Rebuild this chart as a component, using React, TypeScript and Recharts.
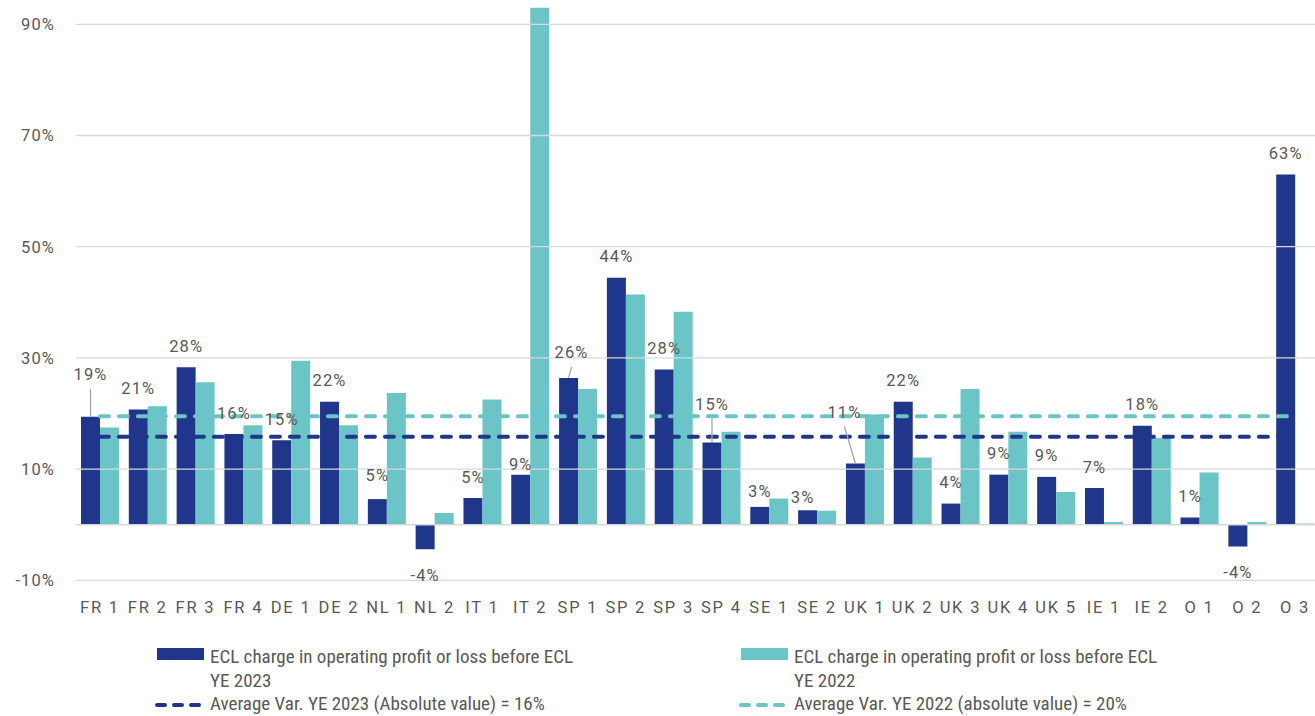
import React from 'react';
import { ComposedChart, Bar, Line, XAxis, YAxis, ReferenceLine, LabelList } from 'recharts';

const categories = [
  'FR 1', 'FR 2', 'FR 3', 'FR 4', 'DE 1', 'DE 2', 'NL 1', 'NL 2', 'IT 1', 'IT 2', 'SP 1', 'SP 2', 'SP 3',
  'SP 4', 'SE 1', 'SE 2', 'UK 1', 'UK 2', 'UK 3', 'UK 4', 'UK 5', 'IE 1', 'IE 2', 'O 1', 'O 2', 'O 3',
];

// ECL charge in operating profit or loss before ECL, %
const ecl2023 = [
  19.4, 20.7, 28.3, 16.3, 15.2, 22.1, 4.6, -4.4, 4.8, 9.0, 26.4, 44.4, 27.9,
  14.8, 3.2, 2.6, 11.0, 22.1, 3.8, 9.0, 8.6, 6.6, 17.8, 1.3, -3.9, 63.0,
];
const ecl2022 = [
  17.5, 21.3, 25.6, 17.9, 29.5, 17.9, 23.7, 2.1, 22.5, 93.0, 24.4, 41.4, 38.3,
  16.7, 4.7, 2.5, 19.8, 12.1, 24.4, 16.7, 5.9, 0.5, 15.6, 9.4, 0.5, 0.2,
];

const avg2023 = 15.8;
const avg2022 = 19.5;

const yTicks = [-10, 10, 30, 50, 70, 90];

const DARK = '#20368a';
const TEAL = '#6bc5c7';
const TEXT = '#595959';
const GRID = '#d9d9d9';

const data = categories.map((cat, i) => ({
  cat,
  y2023: ecl2023[i],
  y2022: ecl2022[i],
  avg2023,
  avg2022,
}));

// where labels would collide with other marks they are nudged (px from bar end)
const labelTweaks: Record<string, { dx?: number; dy: number; leader?: boolean }> = {
  'FR 1': { dy: -42, leader: true },
  'NL 1': { dy: -23.5 },
  'IT 2': { dy: -10.5 },
  'SP 1': { dx: 3, dy: -25, leader: true },
  'SP 4': { dy: -38, leader: true },
  'SE 1': { dy: -15 },
  'SE 2': { dx: -5, dy: -12.5 },
  'UK 1': { dx: -11, dy: -51, leader: true },
};

const tickFont = { fontFamily: 'Roboto, sans-serif', fontSize: 16.5, fill: TEXT, letterSpacing: 1.1 };

const renderLabel = (props: any) => {
  const { x, y, width, height, value, index } = props;
  const t = labelTweaks[categories[index]] ?? { dy: -21 };
  const top = Math.min(y, y + height);
  const bottom = Math.max(y, y + height);
  const cx = x + width / 2;
  const lx = cx + (t.dx ?? 0);
  const ly = value >= 0 ? top + t.dy : bottom + 26;
  return (
    <g>
      {t.leader && <line x1={cx} y1={top} x2={lx} y2={ly + 14} stroke="#a6a6a6" strokeWidth={1.3} />}
      <text x={lx} y={ly} textAnchor="middle" dominantBaseline="central" {...tickFont}>
        {`${Math.round(value)}%`}
      </text>
    </g>
  );
};

const legendFont: React.CSSProperties = {
  fontFamily: "'Liberation Sans Narrow', 'Roboto Condensed', Roboto, sans-serif",
  fontSize: 19,
  color: TEXT,
  position: 'absolute',
  whiteSpace: 'nowrap',
  lineHeight: '24px',
};

function DashIcon({ color }: { color: string }) {
  return (
    <svg width={50} height={8} style={{ position: 'absolute', left: 0, top: 0 }}>
      <line x1={3} y1={4} x2={47} y2={4} stroke={color} strokeWidth={4} strokeDasharray="8 9" strokeLinecap="round" />
    </svg>
  );
}

function LegendBlock() {
  const cols = [
    { x: 157, color: DARK, year: 'YE 2023', avg: 'Average Var. YE 2023 (Absolute value) = 16%' },
    { x: 741, color: TEAL, year: 'YE 2022', avg: 'Average Var. YE 2022 (absolute value) = 20%' },
  ];
  return (
    <>
      {cols.map((c) => (
        <React.Fragment key={c.year}>
          <div style={{ position: 'absolute', left: c.x, top: 648, width: 47, height: 12, background: c.color }} />
          <div style={{ ...legendFont, left: c.x + 53, top: 645 }}>ECL charge in operating profit or loss before ECL</div>
          <div style={{ ...legendFont, left: c.x + 53, top: 669 }}>{c.year}</div>
          <div style={{ position: 'absolute', left: c.x - 3, top: 701 }}>
            <DashIcon color={c.color} />
          </div>
          <div style={{ ...legendFont, left: c.x + 53, top: 692 }}>{c.avg}</div>
        </React.Fragment>
      ))}
    </>
  );
}

export default function App() {
  return (
    <div style={{ position: 'absolute', left: 0, top: 0, width: 1315, height: 716, overflow: 'hidden', background: '#fff' }}>
      <ComposedChart
        width={1330}
        height={716}
        data={data}
        margin={{ top: 7.6, right: 11, bottom: 105.7, left: 0 }}
        barGap={0}
      >
        {yTicks.map((t) => (
          <ReferenceLine key={t} y={t} stroke={GRID} strokeWidth={1.3} />
        ))}
        <ReferenceLine y={0} stroke={GRID} strokeWidth={1.6} />
        <XAxis
          dataKey="cat"
          height={30}
          interval={0}
          axisLine={false}
          tickLine={false}
          tickSize={0}
          tickMargin={21}
          tick={{ ...tickFont, letterSpacing: 1.8 }}
        />
        <YAxis
          width={76}
          domain={[-10, 93]}
          ticks={yTicks}
          allowDataOverflow
          axisLine={false}
          tickLine={false}
          tickSize={0}
          tickMargin={21}
          tickFormatter={(v: number) => `${v}%`}
          tick={tickFont}
        />
        <Bar dataKey="y2023" fill={DARK} barSize={19} isAnimationActive={false}>
          <LabelList dataKey="y2023" content={renderLabel} />
        </Bar>
        <Bar dataKey="y2022" fill={TEAL} barSize={19} isAnimationActive={false} />
        <Line
          dataKey="avg2022"
          stroke={TEAL}
          strokeWidth={4}
          strokeDasharray="9 10"
          strokeLinecap="round"
          dot={false}
          activeDot={false}
          isAnimationActive={false}
        />
        <Line
          dataKey="avg2023"
          stroke={DARK}
          strokeWidth={4}
          strokeDasharray="9 10"
          strokeLinecap="round"
          dot={false}
          activeDot={false}
          isAnimationActive={false}
        />
      </ComposedChart>
      <LegendBlock />
    </div>
  );
}
